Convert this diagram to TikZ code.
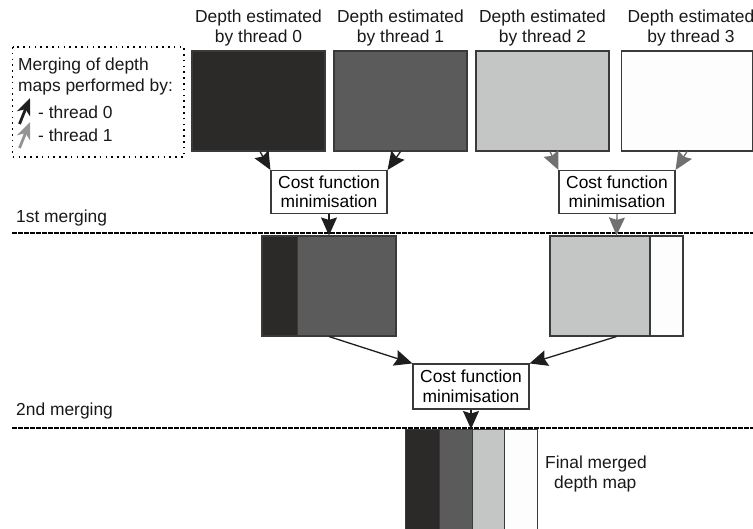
\documentclass[tikz,border=0pt]{standalone}
\usepackage{fontspec}
\setmainfont{Liberation Sans}
\usetikzlibrary{arrows.meta}
\definecolor{cdark}{HTML}{2B2A28}
\definecolor{cmid}{HTML}{5B5B5B}
\definecolor{clight}{HTML}{C4C6C5}
\definecolor{cwhite}{HTML}{FDFDFD}
\definecolor{cedge}{HTML}{3A3A3A}
\definecolor{carrowk}{HTML}{1E1E1E}
\definecolor{carrowg}{HTML}{707070}
\tikzset{
  txt/.style={font=\fontsize{17.4pt}{20pt}\selectfont, inner sep=0pt, text=black!90},
  map/.style={draw=cedge, line width=1.1pt, inner sep=0pt, minimum height=100pt},
  costbox/.style={draw=cedge, line width=1.1pt, fill=white, align=center, inner sep=0pt,
    minimum width=116pt, minimum height=43pt, font=\fontsize{17.4pt}{19.5pt}\selectfont},
  arrk/.style={draw=carrowk, line width=1.3pt, -{Stealth[length=18pt,width=16pt,inset=2.5pt]}},
  arrg/.style={draw=carrowg, line width=1.3pt, -{Stealth[length=18pt,width=16pt,inset=2.5pt]}},
  legarr/.style={line width=2.8pt, -{Stealth[length=17pt,width=14pt,inset=5pt]}},
  sep/.style={line width=1.6pt, dash pattern=on 4.5pt off 1.5pt},
}
\begin{document}
\begin{tikzpicture}[x=1pt,y=-1pt]
\useasboundingbox (0,0) rectangle (753,529);
% legend
\draw[line width=1.6pt, dash pattern=on 1.6pt off 4.2pt] (12.5,47) rectangle (184,157);
\node[txt, anchor=west] (leg1) at (18,66) {Merging of depth};
\node[txt, anchor=west] (leg2) at (18,87) {maps performed by:};
\coordinate (lk0) at (19.5,124);
\coordinate (lk1) at (30,98);
\coordinate (lg0) at (19.5,148);
\coordinate (lg1) at (30,122);
\draw[legarr, draw=carrowk] (lk0) -- (lk1);
\draw[legarr, draw=carrowg!75] (lg0) -- (lg1);
\node[txt, anchor=west] (legt0) at (38,112) {- thread 0};
\node[txt, anchor=west] (legt1) at (38,135) {- thread 1};
% top labels
\node[txt, align=center] (lab0) at (258.5,28) {Depth estimated\\by thread 0};
\node[txt, align=center] (lab1) at (400.5,28) {Depth estimated\\by thread 1};
\node[txt, align=center] (lab2) at (542.5,28) {Depth estimated\\by thread 2};
\node[txt, align=center] (lab3) at (691,28) {Depth estimated\\by thread 3};
% top maps
\node[map, fill=cdark, minimum width=133pt] (b0) at (258.5,101) {};
\node[map, fill=cmid, minimum width=133pt] (b1) at (400.5,101) {};
\node[map, fill=clight, minimum width=133pt] (b2) at (542.5,101) {};
\node[map, fill=cwhite, minimum width=131pt] (b3) at (687,101) {};
% cost boxes level 1
\node[costbox] (c1) at (329,192) {Cost function\\minimisation};
\node[costbox] (c2) at (617,192) {Cost function\\minimisation};
\draw[arrk] ([xshift=1.5pt]b0.south) -- (c1.north west);
\draw[arrk] (b1.south) -- (c1.north east);
\draw[arrg] ([xshift=7.5pt]b2.south) -- (c2.north west);
\draw[arrg] (b3.south) -- (c2.north east);
% separator 1
\node[txt, anchor=west] (sep1lab) at (16,218) {1st merging};
\coordinate (s1a) at (12,233);
\coordinate (s1b) at (753,233);
\draw[sep] (s1a) -- (s1b);
% merged maps
\node[map, fill=cmid, minimum width=134pt] (m1) at (329,286) {};
\node[map, fill=cdark, minimum width=34.5pt] (m1a) at (280,286) {};
\node[map, fill=clight, minimum width=133pt] (m2) at (616.5,286) {};
\node[map, fill=cwhite, minimum width=33pt] (m2b) at (666.5,286) {};
\draw[arrk] (c1.south) -- (m1.north);
\draw[arrg] (c2.south) -- (m2.north);
% cost box level 2
\node[costbox, minimum height=45pt] (c3) at (471,386.5) {Cost function\\minimisation};
\draw[arrk] (m1.south) -- (c3.north west);
\draw[arrk] (m2.south) -- (c3.north east);
% separator 2
\node[txt, anchor=west] (sep2lab) at (16,411) {2nd merging};
\coordinate (s2a) at (12,428);
\coordinate (s2b) at (753,428);
\draw[sep] (s2a) -- (s2b);
% final map
\node[map, fill=cdark, minimum width=34pt, anchor=north west] (f0) at (405,429) {};
\node[map, fill=cmid, minimum width=33pt, anchor=north west] (f1) at (439,429) {};
\node[map, fill=clight, minimum width=32pt, anchor=north west] (f2) at (472,429) {};
\node[map, fill=cwhite, minimum width=33pt, anchor=north west] (f3) at (504,429) {};
\coordinate (ftop) at (471,429);
\draw[arrk] (c3.south) -- (ftop);
\node[txt, align=left, anchor=west] (finlab) at (545,474) {Final merged\\\hspace*{9pt}depth map};
\end{tikzpicture}
\end{document}
